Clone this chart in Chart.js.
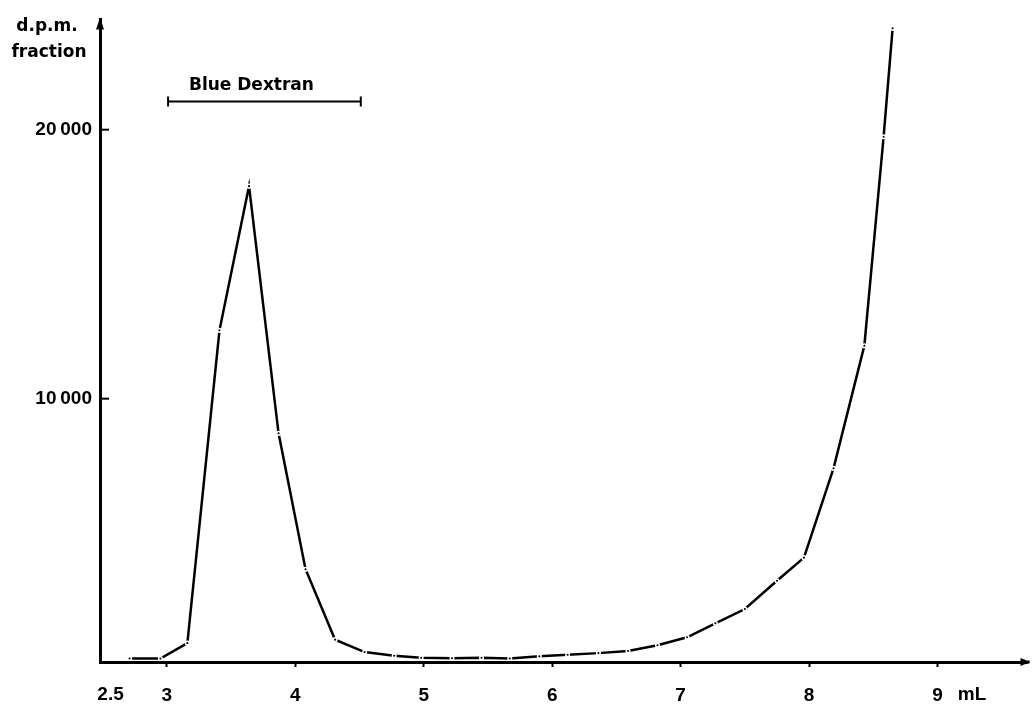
<!DOCTYPE html>
<html>
<head>
<meta charset="utf-8">
<script src="https://cdn.jsdelivr.net/npm/chart.js@4"></script>
<style>
  html, body { margin: 0; padding: 0; background: #fff; }
  #wrap { width: 1033px; height: 705px; }
</style>
</head>
<body>
<div id="wrap"><canvas id="elution"></canvas></div>
<script>
// elution volume (mL) and activity (d.p.m. per fraction)
const volume = [2.71, 2.95, 3.16, 3.41, 3.64, 3.87, 4.08, 4.31, 4.54, 4.77, 4.98, 5.22, 5.45, 5.67,
                5.90, 6.12, 6.36, 6.59, 6.82, 7.05, 7.27, 7.50, 7.75, 7.96, 8.19, 8.43, 8.58, 8.65];
const dpm = [340, 340, 910, 12540, 17900, 8710, 3660, 1040, 580, 440, 370, 350, 370, 340,
             420, 480, 540, 620, 830, 1130, 1650, 2180, 3230, 4090, 7410, 11970, 19740, 23770];

const xTicks = [3, 4, 5, 6, 7, 8, 9];
const yTicks = [10000, 20000];
const dextranRange = [3.01, 4.51];   // Blue Dextran elution window (mL)
const dextranLevel = 21050;

const fontDigits = "bold 19px 'Liberation Sans'";
const fontWords = "bold 17px 'DejaVu Sans'";

function fmt(v) {
    return String(v).replace(/\B(?=(\d{3})+(?!\d))/g, '\u2009');
}

const extras = {
    id: 'extras',
    afterDraw(chart) {
        const c = chart.ctx;
        const xs = chart.scales.x, ys = chart.scales.y;
        const left = chart.chartArea.left, bottom = chart.chartArea.bottom;
        const top = chart.chartArea.top, right = chart.chartArea.right;
        c.save();
        c.strokeStyle = '#000';
        c.fillStyle = '#000';
        c.lineWidth = 2;
        // y tick marks point inward
        yTicks.forEach(function (v) {
            const y = ys.getPixelForValue(v);
            c.beginPath();
            c.moveTo(left, y);
            c.lineTo(left + 9, y);
            c.stroke();
        });
        // arrow heads
        c.beginPath();
        c.moveTo(left, top - 2);
        c.lineTo(left - 4, top + 10);
        c.lineTo(left + 4, top + 10);
        c.closePath();
        c.fill();
        c.beginPath();
        c.moveTo(right + 3, bottom);
        c.lineTo(right - 7, bottom - 4);
        c.lineTo(right - 7, bottom + 4);
        c.closePath();
        c.fill();
        c.lineWidth = 3;
        c.beginPath();
        c.moveTo(right, bottom);
        c.lineTo(right + 2, bottom);
        c.stroke();

        // axis titles
        c.font = fontWords;
        c.textAlign = 'center';
        c.textBaseline = 'middle';
        c.fillText('d.p.m.', 47, 27);
        c.fillText('fraction', 49, 53);
        c.font = fontDigits;
        c.fillText('2.5', xs.getPixelForValue(2.5) + 8, 695);
        c.fillText('mL', 972, 695);

        // Blue Dextran bar
        const x0 = xs.getPixelForValue(dextranRange[0]);
        const x1 = xs.getPixelForValue(dextranRange[1]);
        const yb = ys.getPixelForValue(dextranLevel);
        c.lineWidth = 2;
        c.beginPath();
        c.moveTo(x0, yb); c.lineTo(x1, yb);
        c.moveTo(x0, yb - 5); c.lineTo(x0, yb + 5);
        c.moveTo(x1, yb - 5); c.lineTo(x1, yb + 5);
        c.stroke();
        c.font = fontWords;
        c.fillText('Blue Dextran', (x0 + x1) / 2 - 13, yb - 16);
        c.restore();
    }
};

const ctx = document.getElementById('elution').getContext('2d');
new Chart(ctx, {
    type: 'line',
    data: {
        datasets: [{
            data: volume.map((v, i) => ({ x: v, y: dpm[i] })),
            borderColor: '#000',
            borderWidth: 2.5,
            tension: 0,
            fill: false,
            pointRadius: 1.8,
            pointBorderWidth: 1.5,
            pointBackgroundColor: '#000',
            pointBorderColor: '#fff',
        }],
    },
    options: {
        responsive: true,
        maintainAspectRatio: false,
        animation: false,
        layout: { padding: { top: 15, right: 0, left: 0, bottom: 0 } },
        plugins: {
            legend: { display: false },
            tooltip: { enabled: false },
        },
        scales: {
            x: {
                type: 'linear',
                min: 2.48,
                max: 9.70,
                afterFit: function (scale) { scale.height = 43; },
                afterBuildTicks: function (scale) {
                    scale.ticks = xTicks.map(v => ({ value: v }));
                },
                grid: {
                    drawOnChartArea: false,
                    drawTicks: true,
                    tickLength: 5,
                    tickWidth: 2,
                    tickColor: '#000',
                },
                border: { display: true, color: '#000', width: 3 },
                ticks: {
                    color: '#000',
                    font: { family: 'Liberation Sans', size: 19, weight: 'bold' },
                    padding: 17,
                    maxRotation: 0,
                    autoSkip: false,
                },
            },
            y: {
                min: 210,
                max: 24100,
                afterFit: function (scale) { scale.width = 100; },
                afterBuildTicks: function (scale) {
                    scale.ticks = yTicks.map(v => ({ value: v }));
                },
                grid: { drawOnChartArea: false, drawTicks: false },
                border: { display: true, color: '#000', width: 3 },
                ticks: {
                    color: '#000',
                    font: { family: 'Liberation Sans', size: 19, weight: 'bold' },
                    padding: 8,
                    callback: function (v) { return fmt(v); },
                },
            },
        },
    },
    plugins: [extras],
});
</script>
</body>
</html>
